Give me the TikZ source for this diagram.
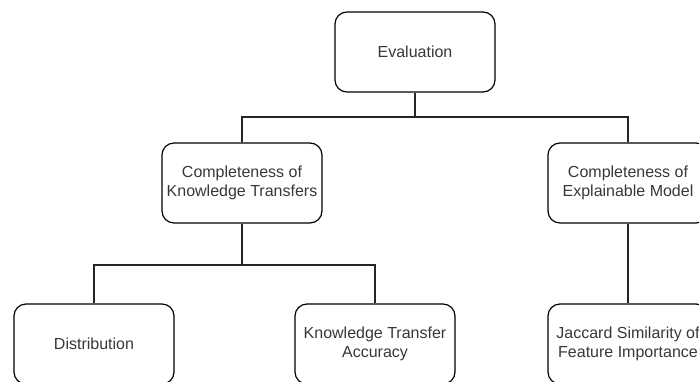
\documentclass[tikz,border=0pt]{standalone}
\usepackage{fontspec}
\setmainfont{Liberation Sans}
\begin{document}
\begin{tikzpicture}[x=1pt,y=-1pt,
  box/.style={draw=black, line width=1.2pt, rounded corners=12pt, rectangle,
    minimum width=160pt, minimum height=80pt, align=center,
    font=\fontsize{16}{19.5}\selectfont, text=black!78, inner sep=0pt},
  conn/.style={draw=black!85, line width=1.2pt}]
\clip (0,0) rectangle (699,381);
\useasboundingbox (0,0) rectangle (699,381);
\fill[white] (0,0) rectangle (699,381);
\node[box] (eval) at (415,52) {Evaluation};
\node[box] (kt) at (242,183) {Completeness of\\Knowledge Transfers};
\node[box] (em) at (628,183) {Completeness of\\Explainable Model};
\node[box] (dist) at (94,344) {Distribution};
\node[box] (kta) at (375,344) {Knowledge Transfer\\Accuracy};
\node[box] (jac) at (628,344) {Jaccard Similarity of\\Feature Importance};
\coordinate (j1) at (415,117);
\coordinate (j2) at (242,265);
\draw[conn] (eval.south) -- (j1) -| (kt.north);
\draw[conn] (j1) -| (em.north);
\draw[conn] (kt.south) -- (j2) -| (dist.north);
\draw[conn] (j2) -| (kta.north);
\draw[conn] (em.south) -- (jac.north);
\end{tikzpicture}
\end{document}
